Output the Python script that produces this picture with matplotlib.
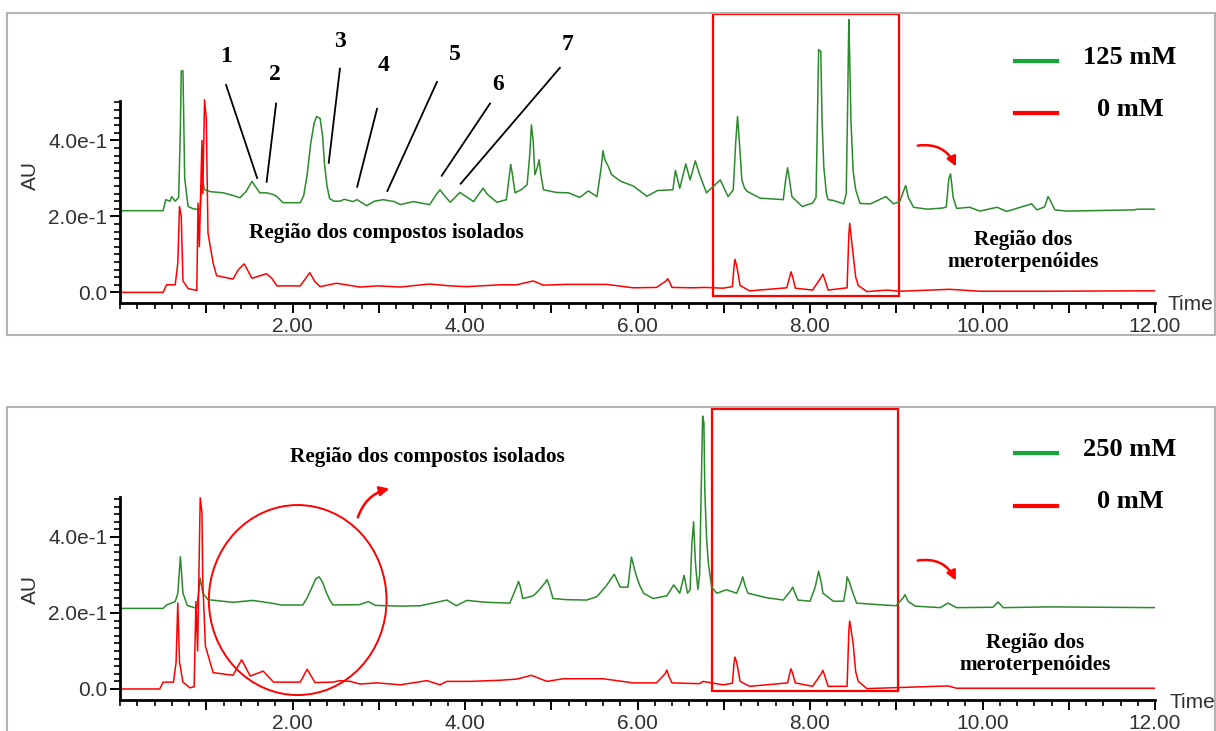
import numpy as np
import matplotlib
matplotlib.use('Agg')
import matplotlib.pyplot as plt
from matplotlib.patches import Rectangle, Ellipse, FancyArrowPatch
from matplotlib.lines import Line2D
from matplotlib.ticker import FixedLocator, MultipleLocator, FuncFormatter

# retention time (min) / absorbance (AU)
top_green_t = [0.00, 0.50, 0.53, 0.58, 0.60, 0.64, 0.68, 0.70, 0.71, 0.73, 0.75, 0.79, 0.85, 0.93, 0.945, 0.96, 0.98, 1.05, 1.20, 1.31,
               1.39, 1.46, 1.53, 1.62, 1.70, 1.77, 1.82, 1.89, 2.09, 2.13, 2.17, 2.21, 2.25, 2.28, 2.32, 2.35, 2.37, 2.40, 2.43, 2.48,
               2.55, 2.60, 2.70, 2.75, 2.86, 2.95, 3.05, 3.18, 3.25, 3.40, 3.59, 3.66, 3.71, 3.76, 3.83, 3.94, 4.10, 4.17, 4.21, 4.26,
               4.37, 4.48, 4.51, 4.53, 4.55, 4.58, 4.65, 4.72, 4.75, 4.77, 4.79, 4.81, 4.84, 4.86, 4.88, 4.91, 5.06, 5.20, 5.33, 5.43,
               5.53, 5.58, 5.60, 5.62, 5.66, 5.70, 5.80, 5.95, 6.11, 6.23, 6.41, 6.44, 6.49, 6.56, 6.61, 6.67, 6.72, 6.80, 6.96, 7.05,
               7.11, 7.14, 7.16, 7.18, 7.21, 7.24, 7.27, 7.42, 7.69, 7.72, 7.74, 7.76, 7.79, 7.91, 8.03, 8.07, 8.085, 8.10, 8.125, 8.14,
               8.16, 8.19, 8.21, 8.27, 8.39, 8.42, 8.435, 8.45, 8.46, 8.475, 8.50, 8.53, 8.58, 8.70, 8.88, 8.97, 9.04, 9.09, 9.11, 9.14,
               9.20, 9.36, 9.54, 9.58, 9.61, 9.63, 9.66, 9.70, 9.85, 9.97, 10.17, 10.28, 10.57, 10.63, 10.72, 10.76, 10.79, 10.84, 10.98, 11.75,
               11.80, 12.02]
top_green_v = [0.215, 0.215, 0.244, 0.240, 0.252, 0.240, 0.250, 0.430, 0.583, 0.583, 0.300, 0.226, 0.220, 0.218, 0.280, 0.290, 0.270, 0.265, 0.262, 0.255,
               0.249, 0.265, 0.292, 0.262, 0.262, 0.258, 0.252, 0.236, 0.236, 0.255, 0.310, 0.390, 0.445, 0.463, 0.458, 0.410, 0.340, 0.280, 0.247, 0.240,
               0.240, 0.245, 0.239, 0.244, 0.228, 0.240, 0.244, 0.239, 0.231, 0.239, 0.231, 0.255, 0.270, 0.255, 0.237, 0.263, 0.239, 0.262, 0.274, 0.258,
               0.237, 0.244, 0.300, 0.337, 0.310, 0.262, 0.270, 0.283, 0.360, 0.441, 0.400, 0.310, 0.330, 0.349, 0.310, 0.270, 0.263, 0.262, 0.250, 0.267,
               0.252, 0.330, 0.373, 0.350, 0.332, 0.310, 0.293, 0.280, 0.253, 0.268, 0.270, 0.321, 0.274, 0.338, 0.296, 0.346, 0.310, 0.262, 0.296, 0.252,
               0.270, 0.400, 0.463, 0.400, 0.296, 0.275, 0.266, 0.248, 0.244, 0.300, 0.328, 0.300, 0.252, 0.226, 0.235, 0.250, 0.450, 0.639, 0.634, 0.450,
               0.330, 0.260, 0.244, 0.242, 0.233, 0.260, 0.470, 0.718, 0.620, 0.450, 0.320, 0.270, 0.234, 0.233, 0.252, 0.233, 0.239, 0.270, 0.281, 0.250,
               0.224, 0.219, 0.222, 0.225, 0.300, 0.312, 0.250, 0.221, 0.224, 0.214, 0.224, 0.213, 0.233, 0.217, 0.225, 0.252, 0.240, 0.217, 0.214, 0.217,
               0.219, 0.219]

top_red_t = [0.00, 0.50, 0.54, 0.64, 0.67, 0.69, 0.71, 0.73, 0.79, 0.89, 0.905, 0.92, 0.95, 0.96, 0.98, 1.00, 1.02, 1.08, 1.12, 1.31,
             1.37, 1.44, 1.53, 1.70, 1.76, 1.82, 2.09, 2.20, 2.26, 2.32, 2.51, 2.70, 2.78, 2.99, 3.25, 3.59, 3.83, 4.02, 4.41, 4.60,
             4.79, 4.91, 5.18, 5.29, 5.64, 5.95, 6.22, 6.33, 6.35, 6.37, 6.40, 6.65, 6.78, 6.99, 7.10, 7.12, 7.13, 7.15, 7.19, 7.30,
             7.73, 7.77, 7.78, 7.80, 7.83, 8.03, 8.13, 8.15, 8.17, 8.21, 8.43, 8.45, 8.46, 8.48, 8.50, 8.53, 8.56, 8.66, 8.89, 9.04,
             9.62, 9.97, 10.75, 11.83, 12.02]
top_red_v = [0.0, 0.0, 0.020, 0.020, 0.077, 0.226, 0.200, 0.030, 0.010, 0.005, 0.235, 0.120, 0.400, 0.260, 0.507, 0.460, 0.156, 0.077, 0.044, 0.035,
             0.059, 0.075, 0.037, 0.049, 0.037, 0.017, 0.017, 0.052, 0.028, 0.015, 0.024, 0.017, 0.014, 0.017, 0.014, 0.022, 0.017, 0.015, 0.020, 0.020,
             0.030, 0.019, 0.021, 0.021, 0.021, 0.012, 0.013, 0.030, 0.036, 0.028, 0.013, 0.012, 0.013, 0.011, 0.015, 0.070, 0.087, 0.070, 0.018, 0.004,
             0.012, 0.045, 0.054, 0.040, 0.011, 0.006, 0.040, 0.048, 0.035, 0.006, 0.012, 0.150, 0.182, 0.140, 0.100, 0.040, 0.018, 0.002, 0.006, 0.003,
             0.008, 0.003, 0.003, 0.004, 0.004]

bot_green_t = [0.00, 0.50, 0.54, 0.64, 0.67, 0.70, 0.73, 0.78, 0.89, 0.93, 0.96, 1.02, 1.31, 1.54, 1.78, 1.87, 2.12, 2.17, 2.22, 2.27,
               2.31, 2.35, 2.39, 2.43, 2.47, 2.78, 2.88, 2.96, 3.25, 3.48, 3.79, 3.90, 4.02, 4.25, 4.52, 4.60, 4.62, 4.64, 4.67, 4.79,
               4.85, 4.93, 4.95, 4.98, 5.02, 5.18, 5.41, 5.53, 5.64, 5.73, 5.80, 5.89, 5.92, 5.93, 5.96, 5.99, 6.03, 6.07, 6.18, 6.34,
               6.42, 6.49, 6.54, 6.58, 6.61, 6.63, 6.65, 6.67, 6.68, 6.70, 6.72, 6.74, 6.755, 6.77, 6.78, 6.80, 6.82, 6.86, 6.92, 7.03,
               7.15, 7.20, 7.22, 7.25, 7.28, 7.50, 7.69, 7.78, 7.80, 7.83, 7.86, 8.00, 8.06, 8.10, 8.13, 8.15, 8.27, 8.39, 8.42, 8.43,
               8.46, 8.48, 8.54, 8.85, 9.00, 9.08, 9.10, 9.14, 9.22, 9.51, 9.60, 9.70, 10.12, 10.18, 10.24, 10.76, 12.03]
bot_green_v = [0.212, 0.212, 0.221, 0.230, 0.252, 0.348, 0.252, 0.220, 0.212, 0.292, 0.252, 0.235, 0.228, 0.233, 0.225, 0.221, 0.221, 0.240, 0.265, 0.290,
               0.295, 0.280, 0.255, 0.235, 0.221, 0.222, 0.230, 0.220, 0.218, 0.219, 0.234, 0.219, 0.233, 0.228, 0.226, 0.270, 0.283, 0.270, 0.238, 0.245,
               0.258, 0.280, 0.288, 0.270, 0.238, 0.235, 0.234, 0.243, 0.272, 0.302, 0.268, 0.268, 0.330, 0.347, 0.320, 0.295, 0.270, 0.252, 0.238, 0.245,
               0.274, 0.252, 0.299, 0.252, 0.261, 0.380, 0.440, 0.340, 0.310, 0.262, 0.300, 0.542, 0.718, 0.700, 0.524, 0.400, 0.334, 0.268, 0.252, 0.261,
               0.252, 0.280, 0.295, 0.270, 0.252, 0.240, 0.234, 0.260, 0.268, 0.250, 0.234, 0.231, 0.268, 0.310, 0.280, 0.252, 0.231, 0.231, 0.270, 0.295,
               0.280, 0.264, 0.226, 0.221, 0.219, 0.240, 0.248, 0.230, 0.218, 0.214, 0.226, 0.214, 0.215, 0.229, 0.214, 0.216, 0.214]

bot_red_t = [0.00, 0.46, 0.50, 0.62, 0.65, 0.67, 0.69, 0.73, 0.81, 0.86, 0.88, 0.90, 0.93, 0.95, 0.96, 0.99, 1.08, 1.31, 1.41, 1.51,
             1.66, 1.78, 2.09, 2.17, 2.26, 2.47, 2.55, 2.67, 2.78, 2.98, 3.25, 3.56, 3.71, 3.79, 4.06, 4.41, 4.60, 4.77, 4.95, 5.14,
             5.28, 5.60, 5.95, 6.22, 6.32, 6.34, 6.36, 6.40, 6.72, 6.76, 6.99, 7.10, 7.12, 7.13, 7.15, 7.19, 7.30, 7.74, 7.77, 7.78,
             7.80, 7.83, 8.03, 8.13, 8.15, 8.17, 8.21, 8.43, 8.45, 8.46, 8.48, 8.50, 8.53, 8.56, 8.66, 9.60, 9.70, 12.03]
bot_red_v = [0.0, 0.0, 0.018, 0.018, 0.070, 0.226, 0.070, 0.018, 0.003, 0.006, 0.230, 0.100, 0.503, 0.464, 0.280, 0.113, 0.043, 0.036, 0.077, 0.034,
             0.047, 0.018, 0.018, 0.052, 0.017, 0.018, 0.022, 0.020, 0.013, 0.016, 0.011, 0.022, 0.011, 0.020, 0.020, 0.023, 0.026, 0.036, 0.020, 0.027,
             0.027, 0.027, 0.016, 0.016, 0.040, 0.050, 0.035, 0.016, 0.014, 0.020, 0.011, 0.015, 0.070, 0.084, 0.070, 0.020, 0.007, 0.016, 0.045, 0.053,
             0.040, 0.016, 0.007, 0.040, 0.049, 0.035, 0.007, 0.007, 0.150, 0.179, 0.150, 0.120, 0.045, 0.020, 0.001, 0.008, 0.002, 0.002]

# peak numbering (top panel): label, label pos, leader line start, leader line end
peak_labels = ['1', '2', '3', '4', '5', '6', '7']
label_pos = [(1.23, 0.62), (1.80, 0.573), (2.55, 0.66), (3.05, 0.597), (3.88, 0.626), (4.38, 0.547), (5.19, 0.652)]
leader_from = [(1.23, 0.546), (1.81, 0.497), (2.55, 0.589), (2.98, 0.483), (3.675, 0.554), (4.29, 0.497), (5.10, 0.591)]
leader_to = [(1.59, 0.301), (1.70, 0.291), (2.42, 0.341), (2.75, 0.278), (3.10, 0.267), (3.73, 0.307), (3.95, 0.286)]

legend_top = ['125 mM', '0 mM']
legend_bot = ['250 mM', '0 mM']
region_iso = 'Região dos compostos isolados'
region_mero = 'Região dos\nmeroterpenóides'

W, H = 1216, 731
GREEN = '#2b8a2b'
LEG_GREEN = '#16a838'
RED = '#ff0000'
SERIF = 'Liberation Serif'
SANS = 'Liberation Sans'
TXT = '#303036'


def fx(px):
	return px / W


def fy(py):
	return 1 - py / H


fig = plt.figure(figsize=(W / 100, H / 100), dpi=100)

# gray panel frames
fig.add_artist(Rectangle((fx(7), fy(335)), fx(1208), 322 / H, transform=fig.transFigure,
                         fill=False, ec='#b4b4b4', lw=1.5))
fig.add_artist(Rectangle((fx(7), fy(740)), fx(1208), 333 / H, transform=fig.transFigure,
                         fill=False, ec='#b4b4b4', lw=1.5))


def setup_axes(ax, ylo, yhi):
	ax.set_xlim(0, 12)
	ax.set_ylim(ylo, yhi)
	ax.patch.set_alpha(0)
	for s in ['top', 'right']:
		ax.spines[s].set_visible(False)
	ax.spines['left'].set_bounds(ylo, 0.505)
	ax.spines['left'].set_linewidth(2.0)
	ax.spines['bottom'].set_linewidth(2.0)
	ax.xaxis.set_major_locator(FixedLocator(list(range(1, 13))))
	ax.xaxis.set_minor_locator(MultipleLocator(0.2))
	ax.xaxis.set_major_formatter(FuncFormatter(lambda v, p: '%.2f' % v if int(round(v)) % 2 == 0 else ''))
	ax.yaxis.set_major_locator(FixedLocator([0.0, 0.2, 0.4]))
	ax.yaxis.set_minor_locator(FixedLocator(list(np.arange(0, 0.51, 0.02))))
	ax.yaxis.set_major_formatter(FuncFormatter(lambda v, p: {0: '0.0', 1: '2.0e-1', 2: '4.0e-1'}[int(round(v * 5))]))
	ax.tick_params(axis='both', which='major', direction='out', length=7, width=1.4,
	               labelsize=15, labelcolor=TXT)
	ax.tick_params(axis='both', which='minor', direction='out', length=4, width=1.2)
	ax.tick_params(axis='x', which='major', pad=3)
	ax.tick_params(axis='y', which='major', pad=2)
	for lab in ax.get_xticklabels() + ax.get_yticklabels():
		lab.set_fontfamily(SANS)


# ---- top panel ----
ax1 = fig.add_axes([fx(120), fy(303), 1035 / W, 291 / H])
setup_axes(ax1, -0.028, 0.738)
ax1.plot(top_green_t, top_green_v, color=GREEN, lw=1.1)
ax1.plot(top_red_t, top_red_v, color=RED, lw=1.1)
ax1.add_patch(Rectangle((6.875, -0.009), 2.155, 0.742, fill=False, ec=RED, lw=1.6, clip_on=False))
for lab, p, a, b in zip(peak_labels, label_pos, leader_from, leader_to):
	ax1.text(p[0], p[1], lab, ha='center', va='center', fontsize=17, fontweight='bold', family=SERIF)
	ax1.plot([a[0], b[0]], [a[1], b[1]], color='black', lw=1.3, clip_on=False)

# ---- bottom panel ----
ax2 = fig.add_axes([fx(120), fy(700), 1035 / W, 293 / H])
setup_axes(ax2, -0.029, 0.742)
ax2.plot(bot_green_t, bot_green_v, color=GREEN, lw=1.1)
ax2.plot(bot_red_t, bot_red_v, color=RED, lw=1.1)
ax2.add_patch(Rectangle((6.864, -0.005), 2.156, 0.742, fill=False, ec=RED, lw=1.6, clip_on=False))
ax2.add_patch(Ellipse((2.06, 0.234), 2.06, 0.50, fill=False, ec=RED, lw=1.4, clip_on=False))

# axis titles
for py in [175, 590]:
	fig.text(fx(30), fy(py), 'AU', rotation=90, ha='center', va='center', fontsize=15, family=SANS, color=TXT)
fig.text(fx(1190), fy(304), 'Time', ha='center', va='center', fontsize=15, family=SANS, color=TXT)
fig.text(fx(1192), fy(702), 'Time', ha='center', va='center', fontsize=15, family=SANS, color=TXT)

# legends
for labels, ys in [(legend_top, (61, 113)), (legend_bot, (453, 506))]:
	for lab, col, py in zip(labels, [LEG_GREEN, RED], ys):
		fig.add_artist(Line2D([fx(1015), fx(1057)], [fy(py), fy(py)], transform=fig.transFigure, color=col, lw=3))
		fig.text(fx(1130), fy(py - 4), lab, ha='center', va='center', fontsize=19, fontweight='bold', family=SERIF)

# region captions
fig.text(fx(386), fy(233), region_iso, ha='center', va='center', fontsize=15.3, fontweight='bold', family=SERIF)
fig.text(fx(427), fy(457), region_iso, ha='center', va='center', fontsize=15.3, fontweight='bold', family=SERIF)
fig.text(fx(1023), fy(251), region_mero, ha='center', va='center', fontsize=15.3, fontweight='bold', family=SERIF, linespacing=1.15)
fig.text(fx(1035), fy(654), region_mero, ha='center', va='center', fontsize=15.3, fontweight='bold', family=SERIF, linespacing=1.15)

# curved red arrows
for start, end, rad in [((915, 146), (957, 169), -0.4), ((915, 561), (957, 583), -0.4), ((357, 520), (392, 488), -0.3)]:
	fig.add_artist(FancyArrowPatch((fx(start[0]), fy(start[1])), (fx(end[0]), fy(end[1])), transform=fig.transFigure,
	                               connectionstyle='arc3,rad=%s' % rad, arrowstyle='-|>', mutation_scale=14,
	                               color=RED, lw=1.8))

fig.savefig('out.png', dpi=100)
